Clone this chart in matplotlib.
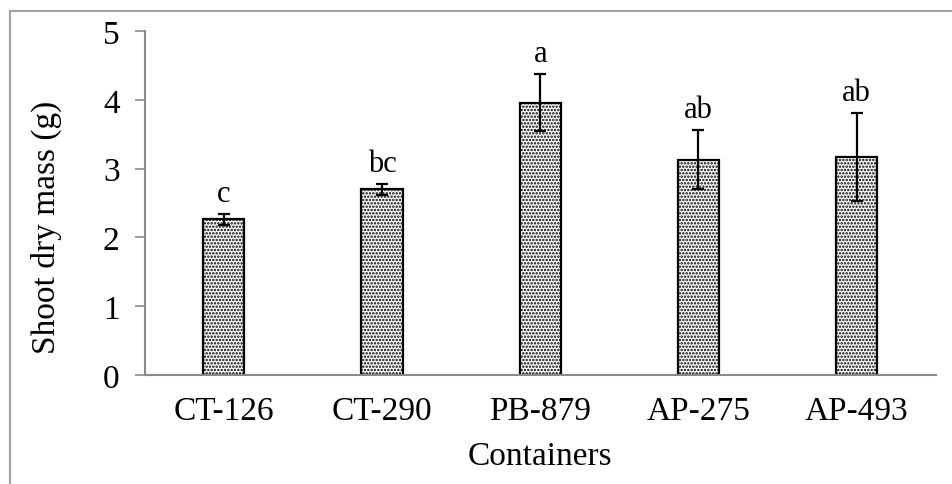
import numpy as np
import matplotlib
matplotlib.use("Agg")
import matplotlib.pyplot as plt
from matplotlib.patches import Rectangle

plt.rcParams['font.family'] = ['Liberation Serif', 'DejaVu Serif']
plt.rcParams['hatch.linewidth'] = 1.2

containers = ["CT-126", "CT-290", "PB-879", "AP-275", "AP-493"]
masa = [2.26, 2.70, 3.96, 3.13, 3.17]
napaka = [0.08, 0.08, 0.42, 0.43, 0.64]
crke = ["c", "bc", "a", "ab", "ab"]

siva = "#8a8a8a"

fig = plt.figure(figsize=(9.52, 4.85), dpi=100)
ax = fig.add_axes([0.152, 0.225, 0.831, 0.709])

x = np.arange(len(containers))
ax.bar(x, masa, width=0.26, color="white", edgecolor="black", linewidth=1.6,
       hatch=".....", zorder=2)
ax.errorbar(x, masa, yerr=napaka, fmt="none", ecolor="black", elinewidth=1.6,
            capsize=4.5, capthick=1.6, zorder=3)

for i in range(len(containers)):
    ax.annotate(crke[i], (x[i], masa[i] + napaka[i]), xytext=(0, 4),
                textcoords="offset points", ha="center", va="bottom", fontsize=22)

ax.set_xlim(-0.5, 4.5)
ax.set_ylim(0, 5)
ax.set_yticks([0, 1, 2, 3, 4, 5])
ax.set_xticks(x)
ax.set_xticklabels(containers, fontsize=24)
ax.tick_params(axis="y", labelsize=24, length=7, width=1.2, color=siva, pad=11)
ax.tick_params(axis="x", length=0, pad=15)
ax.set_ylabel("Shoot dry mass (g)", fontsize=24)
ax.yaxis.set_label_coords(-0.105, 0.433)
ax.set_xlabel("Containers", fontsize=24)
ax.xaxis.set_label_coords(0.5, -0.19)

for s in ["top", "right"]:
    ax.spines[s].set_visible(False)
for s in ["left", "bottom"]:
    ax.spines[s].set_color(siva)
    ax.spines[s].set_linewidth(1.5)

# okvir okoli slike
fig.patches.append(Rectangle((10 / 952, -0.1), 1.2, 1.1 - 12 / 485, transform=fig.transFigure,
                             fill=False, edgecolor="#a0a0a0", linewidth=1.5))

fig.savefig("out.png", dpi=100)
